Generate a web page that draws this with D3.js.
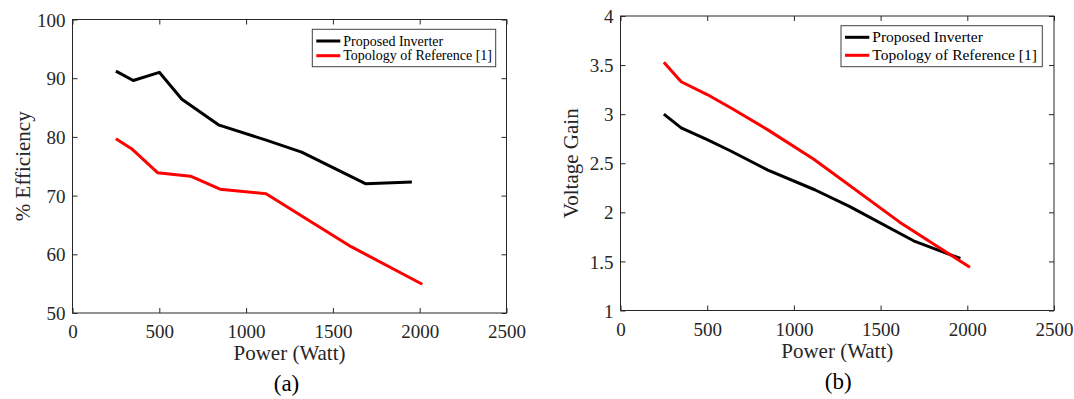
<!DOCTYPE html>
<html>
<head>
<meta charset="utf-8">
<script src="https://cdn.jsdelivr.net/npm/d3@7"></script>
<style>
body { margin: 0; background: #fff; }
.frame { fill: none; stroke: #262626; stroke-width: 1; }
.axis line { stroke: #262626; stroke-width: 1; }
.axis path { display: none; }
.legend rect { fill: #fff; stroke: #404040; stroke-width: 1; }
.series { fill: none; stroke-width: 3; stroke-linejoin: round; }
</style>
</head>
<body>
<script>
var powerTicks = [0, 500, 1000, 1500, 2000, 2500];
var effTicks = [50, 60, 70, 80, 90, 100];
var gainTicks = [1, 1.5, 2, 2.5, 3, 3.5, 4];
var seriesNames = ["Proposed Inverter", "Topology of Reference [1]"];
var seriesColors = ["#000000", "#ff0000"];

// (a) КПД
var effPropPower = [250, 350, 500, 630, 845, 1120, 1320, 1690, 1955];
var effProp = [91.2, 89.6, 91.0, 86.4, 82.0, 79.4, 77.4, 72.0, 72.3];
var effRefPower = [250, 340, 490, 680, 850, 1115, 1605, 2015];
var effRef = [79.7, 78.0, 73.9, 73.3, 71.1, 70.3, 61.3, 54.9];

// (b) коэффициент усиления по напряжению
var gainPropPower = [250, 350, 500, 630, 850, 1120, 1320, 1690, 1960];
var gainProp = [3.00, 2.86, 2.74, 2.63, 2.43, 2.23, 2.06, 1.71, 1.53];
var gainRefPower = [250, 350, 500, 640, 850, 1115, 1610, 2015];
var gainRef = [3.53, 3.33, 3.20, 3.06, 2.84, 2.54, 1.90, 1.44];

var FONT = "Liberation Serif";

function zip(xs, ys) {
	return xs.map(function(x, i) { return { x: x, y: ys[i] }; });
}

var svg = d3.select("body").append("svg")
	.attr("width", 1074)
	.attr("height", 399)
	.attr("font-family", FONT);
svg.append("rect").attr("width", 1074).attr("height", 399).attr("fill", "#fff");

function panel(p) {
	var g = svg.append("g");
	var xScale = d3.scaleLinear().domain([0, 2500]).range([p.x0, p.x1]);
	var yScale = d3.scaleLinear().domain(p.yDomain).range([p.y1, p.y0]);
	var fmt = function(d) { return String(d); };
	var tickText = function(sel) {
		sel.attr("font-family", FONT).attr("font-size", 19).attr("fill", "#262626");
	};

	// оси, засечки внутрь со всех четырёх сторон
	g.append("g").attr("class", "axis").attr("transform", "translate(0," + p.y1 + ")")
		.call(d3.axisBottom(xScale).tickValues(powerTicks).tickFormat(fmt).tickSizeInner(-5).tickSizeOuter(0))
		.selectAll("text").attr("y", 25).attr("dy", 0).call(tickText);
	g.append("g").attr("class", "axis").attr("transform", "translate(0," + p.y0 + ")")
		.call(d3.axisTop(xScale).tickValues(powerTicks).tickFormat("").tickSizeInner(-5).tickSizeOuter(0));
	g.append("g").attr("class", "axis").attr("transform", "translate(" + p.x0 + ",0)")
		.call(d3.axisLeft(yScale).tickValues(p.yTicks).tickFormat(fmt).tickSizeInner(-5).tickSizeOuter(0))
		.selectAll("text").attr("x", -7).attr("dy", "0.35em").call(tickText);
	g.append("g").attr("class", "axis").attr("transform", "translate(" + p.x1 + ",0)")
		.call(d3.axisRight(yScale).tickValues(p.yTicks).tickFormat("").tickSizeInner(-5).tickSizeOuter(0));
	g.append("rect").attr("class", "frame")
		.attr("x", p.x0).attr("y", p.y0)
		.attr("width", p.x1 - p.x0).attr("height", p.y1 - p.y0);

	var line = d3.line().x(function(d) { return xScale(d.x); }).y(function(d) { return yScale(d.y); });
	p.series.forEach(function(s, i) {
		g.append("path").attr("class", "series")
			.attr("d", line(s))
			.attr("stroke", seriesColors[i]);
	});

	g.append("text")
		.attr("x", (p.x0 + p.x1) / 2).attr("y", p.y1 + 47)
		.attr("font-family", FONT).attr("font-size", 21).attr("fill", "#262626")
		.attr("text-anchor", "middle").text("Power (Watt)");
	g.append("text")
		.attr("transform", "translate(" + (p.x0 - 50) + "," + ((p.y0 + p.y1) / 2) + ") rotate(-90)")
		.attr("dy", "0.35em")
		.attr("font-family", FONT).attr("font-size", 21).attr("fill", "#262626")
		.attr("text-anchor", "middle").text(p.yLabel);
	g.append("text")
		.attr("x", (p.x0 + p.x1) / 2 + p.capShift).attr("y", p.y1 + 78)
		.attr("font-family", FONT).attr("font-size", 23).attr("fill", "#000")
		.attr("text-anchor", "middle").text(p.caption);

	// легенда
	var L = p.legend;
	var lg = g.append("g").attr("class", "legend");
	lg.append("rect").attr("x", L.x).attr("y", L.y).attr("width", L.w).attr("height", L.h);
	seriesNames.forEach(function(name, i) {
		var ry = L.y + L.rows[i];
		lg.append("line")
			.attr("x1", L.x + 4).attr("x2", L.x + 4 + L.len)
			.attr("y1", ry).attr("y2", ry)
			.attr("stroke", seriesColors[i]).attr("stroke-width", 3);
		lg.append("text")
			.attr("x", L.x + 7 + L.len).attr("y", ry).attr("dy", "0.33em")
			.attr("font-family", FONT).attr("font-size", L.font).attr("fill", "#000")
			.text(name);
	});
}

panel({
	x0: 72.5, x1: 506.5, y0: 19.5, y1: 313,
	yDomain: [50, 100], yTicks: effTicks, yLabel: "% Efficiency",
	caption: "(a)", capShift: -3,
	series: [zip(effPropPower, effProp), zip(effRefPower, effRef)],
	legend: { x: 312.3, y: 29.3, w: 183.4, h: 37.4, len: 24, rows: [11.7, 26.4], font: 14 }
});

panel({
	x0: 620.5, x1: 1054, y0: 16, y1: 310.5,
	yDomain: [1, 4], yTicks: gainTicks, yLabel: "Voltage Gain",
	caption: "(b)", capShift: 1,
	series: [zip(gainPropPower, gainProp), zip(gainRefPower, gainRef)],
	legend: { x: 841, y: 25.7, w: 201.3, h: 41, len: 24.3, rows: [11.6, 29.6], font: 15.5 }
});
</script>
</body>
</html>
